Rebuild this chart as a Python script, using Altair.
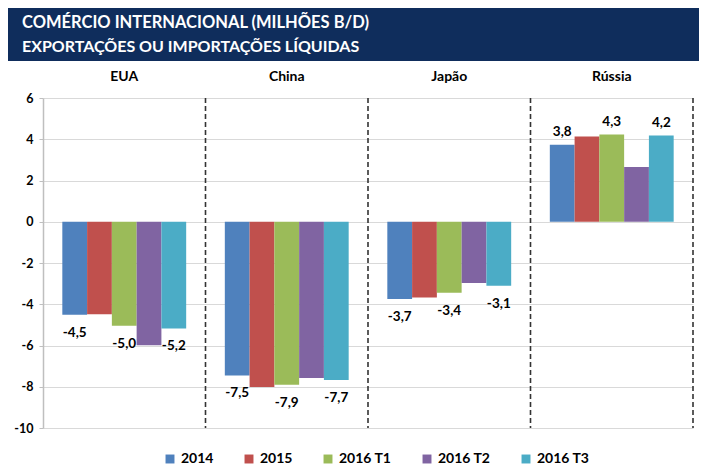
import altair as alt
import pandas as pd

countries = ["EUA", "China", "Japão", "Rússia"]
series = ["2014", "2015", "2016 T1", "2016 T2", "2016 T3"]
colors = ["#4f81bd", "#c0504d", "#9bbb59", "#8064a2", "#4bacc6"]

# values per series, in country order
v2014 = [-4.51, -7.45, -3.75, 3.73]
v2015 = [-4.49, -8.01, -3.67, 4.13]
v2016t1 = [-5.04, -7.90, -3.44, 4.23]
v2016t2 = [-5.99, -7.58, -2.97, 2.66]
v2016t3 = [-5.17, -7.67, -3.10, 4.18]

# data labels (only some bars are labelled)
l2014 = ["-4,5", "-7,5", "-3,7", "3,8"]
l2015 = ["", "", "", ""]
l2016t1 = ["-5,0", "-7,9", "-3,4", "4,3"]
l2016t2 = ["", "", "", ""]
l2016t3 = ["-5,2", "-7,7", "-3,1", "4,2"]

title_line1 = "COMÉRCIO INTERNACIONAL (MILHÕES B/D)"
title_line2 = "EXPORTAÇÕES OU IMPORTAÇÕES LÍQUIDAS"

rows = []
for s, vals, labs in zip(series, [v2014, v2015, v2016t1, v2016t2, v2016t3],
                         [l2014, l2015, l2016t1, l2016t2, l2016t3]):
    for c, v, l in zip(countries, vals, labs):
        rows.append({"country": c, "series": s, "value": v, "label": l})
df = pd.DataFrame(rows)
sep_df = pd.DataFrame({"country": countries})
one = pd.DataFrame({"a": [0]})

FONT = "Lato"
W, H = 650, 330

xaxis = alt.Axis(orient="top", labelAngle=0, labelFont=FONT,
                 labelFontSize=14, labelFontWeight="bold",
                 labelColor="black", labelPadding=15,
                 ticks=False, domain=False, grid=False)
xscale = alt.Scale(paddingInner=0, paddingOuter=0)


def xenc(**kw):
    return alt.X("country:N", sort=countries, title=None, scale=xscale,
                 axis=xaxis, **kw)


xoff = alt.XOffset("series:N", sort=series,
                   scale=alt.Scale(paddingInner=0, paddingOuter=0.78))
yenc = alt.Y("value:Q", title=None,
             scale=alt.Scale(domain=[-10, 6], nice=False, zero=False),
             axis=alt.Axis(values=list(range(-10, 7, 2)), labelExpr="datum.value",
                           labelFont=FONT, labelFontSize=12.5, labelFontWeight="bold",
                           labelColor="black", labelPadding=6, tickSize=4,
                           tickColor="#bfbfbf", domainColor="#bfbfbf",
                           gridColor="#d9d9d9", domainWidth=1.5))

bars = alt.Chart(df).mark_bar().encode(
    x=xenc(),
    xOffset=xoff,
    y=yenc,
    color=alt.Color("series:N", sort=series,
                    scale=alt.Scale(domain=series, range=colors),
                    legend=alt.Legend(orient="none", legendX=120, legendY=354,
                                      direction="horizontal", columns=5, title=None,
                                      symbolType="square", symbolSize=80,
                                      symbolStrokeWidth=0, labelFont=FONT,
                                      labelFontSize=14, labelFontWeight="bold",
                                      labelColor="black", columnPadding=28,
                                      labelOffset=4)),
)

neg_labels = alt.Chart(df).transform_filter(
    "datum.label != '' && datum.value < 0"
).mark_text(baseline="middle", align="center", dy=18, font=FONT,
            fontSize=13.5, fontWeight="bold", color="black").encode(
    x=xenc(), xOffset=xoff, y=yenc, text="label:N")

pos_labels = alt.Chart(df).transform_filter(
    "datum.label != '' && datum.value > 0"
).mark_text(baseline="middle", align="center", dy=-13, font=FONT,
            fontSize=13.5, fontWeight="bold", color="black").encode(
    x=xenc(), xOffset=xoff, y=yenc, text="label:N")

seps = alt.Chart(sep_df).mark_rule(strokeDash=[5, 3], color="#333333",
                                   strokeWidth=1.6).encode(
    x=xenc(bandPosition=1))

banner = alt.Chart(one).mark_rect(color="#0f2d5c").encode(
    x=alt.value(-37), x2=alt.value(W + 6), y=alt.value(-90), y2=alt.value(-37))

frame = alt.Chart(one).mark_rule(color="#d0d0d0", strokeWidth=1).encode(
    x=alt.value(-37), y=alt.value(-37), y2=alt.value(H + 42))

t1 = alt.Chart(one).mark_text(align="left", baseline="middle", font=FONT,
                              fontSize=16.5, fontWeight="bold", color="white").encode(
    x=alt.value(-21), y=alt.value(-75), text=alt.value(title_line1))
t2 = alt.Chart(one).mark_text(align="left", baseline="middle", font=FONT,
                              fontSize=16, fontWeight="bold", color="white").encode(
    x=alt.value(-21), y=alt.value(-51), text=alt.value(title_line2))

chart = alt.layer(frame, banner, t1, t2, bars, seps, neg_labels, pos_labels).properties(
    width=W, height=H,
    autosize=alt.AutoSizeParams(type="none"),
    padding={"left": 35, "top": 90, "right": 6, "bottom": 40},
    background="white",
).configure_view(stroke=None)

chart.save("out.html", embed_options={"renderer": "svg", "actions": False})
